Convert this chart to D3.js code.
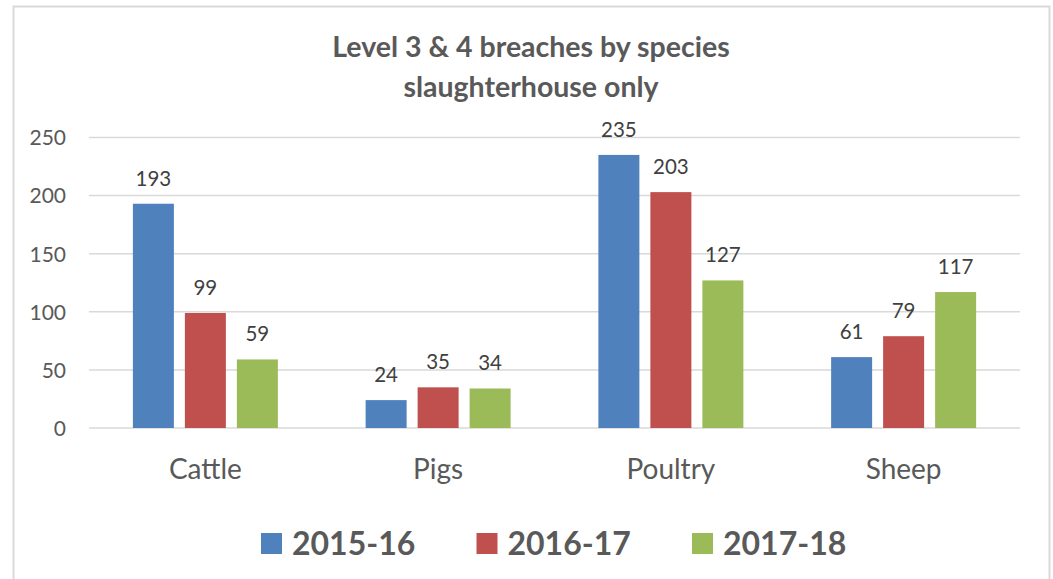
<!DOCTYPE html>
<html>
<head>
<meta charset="utf-8">
<script src="https://cdn.jsdelivr.net/npm/d3@7"></script>
<style>
  html, body { margin: 0; padding: 0; background: #fff; }
  svg { display: block; font-family: Lato, "Open Sans", sans-serif; }
</style>
</head>
<body>
<div id="chart"></div>
<script>
// Data
var species = ['Cattle', 'Pigs', 'Poultry', 'Sheep'];
var years = ['2015-16', '2016-17', '2017-18'];
var values2015 = [193, 24, 235, 61];
var values2016 = [99, 35, 203, 79];
var values2017 = [59, 34, 127, 117];
var yTicks = [0, 50, 100, 150, 200, 250];
var titleLines = ['Level 3 & 4 breaches by species', 'slaughterhouse only'];
var colors = ['#4F81BD', '#C0504D', '#9BBB59'];

var seriesValues = [values2015, values2016, values2017];
var rows = species.map(function(s, i) {
  return { name: s, vals: years.map(function(y, j) { return { year: y, value: seriesValues[j][i], idx: j }; }) };
});

var W = 1053, H = 579;
var svg = d3.select('#chart').append('svg')
  .attr('width', W).attr('height', H);

// Chart area border
svg.append('rect')
  .attr('x', 13.5).attr('y', 6.5)
  .attr('width', 1036).attr('height', 600)
  .attr('fill', '#fff')
  .attr('stroke', '#d9d9d9')
  .attr('stroke-width', 2);

// Title
svg.append('g').selectAll('text').data(titleLines).join('text')
  .attr('x', 531)
  .attr('y', function(d, i) { return 57 + i * 40; })
  .attr('text-anchor', 'middle')
  .attr('font-size', 28.5)
  .attr('font-weight', 'bold')
  .attr('fill', '#595959')
  .text(function(d) { return d; });

// Scales
var x0 = d3.scaleBand().domain(species).range([89, 1020]).paddingInner(0).paddingOuter(0);
var x1 = d3.scaleBand().domain(years).range([0, x0.bandwidth()])
  .paddingInner(0.2115).paddingOuter(0.844);
var y = d3.scaleLinear().domain([0, 250]).range([428, 137.5]);

// Gridlines
svg.append('g').selectAll('line').data(yTicks).join('line')
  .attr('x1', 89).attr('x2', 1020)
  .attr('y1', function(d) { return y(d); })
  .attr('y2', function(d) { return y(d); })
  .attr('stroke', '#d9d9d9')
  .attr('stroke-width', 1.5);

// Y axis labels
var yAxis = svg.append('g')
  .attr('transform', 'translate(89,0)')
  .call(d3.axisLeft(y).tickValues(yTicks).tickSize(0).tickPadding(23));
yAxis.select('.domain').remove();
yAxis.selectAll('text')
  .attr('font-family', 'Lato, "Open Sans", sans-serif')
  .attr('font-size', 21)
  .attr('fill', '#595959')
  .attr('dy', '0.35em');

// Bars
var groups = svg.append('g').selectAll('g').data(rows).join('g')
  .attr('transform', function(d) { return 'translate(' + x0(d.name) + ',0)'; });

groups.selectAll('rect').data(function(d) { return d.vals; }).join('rect')
  .attr('x', function(d) { return x1(d.year); })
  .attr('width', x1.bandwidth())
  .attr('y', function(d) { return y(d.value); })
  .attr('height', function(d) { return y(0) - y(d.value); })
  .attr('fill', function(d) { return colors[d.idx]; });

// Data labels
groups.selectAll('text').data(function(d) { return d.vals; }).join('text')
  .attr('x', function(d) { return x1(d.year) + x1.bandwidth() / 2; })
  .attr('y', function(d) { return y(d.value) - 18; })
  .attr('text-anchor', 'middle')
  .attr('font-size', 20.5)
  .attr('fill', '#404040')
  .text(function(d) { return d.value; });

// Category labels
var xAxis = svg.append('g')
  .attr('transform', 'translate(0,428)')
  .call(d3.axisBottom(x0).tickSize(0).tickPadding(0));
xAxis.select('.domain').remove();
xAxis.selectAll('text')
  .attr('font-family', 'Lato, "Open Sans", sans-serif')
  .attr('font-size', 28)
  .attr('fill', '#595959')
  .attr('dy', null)
  .attr('y', 51);

// Legend
var legend = svg.append('g').selectAll('g').data(years).join('g')
  .attr('transform', function(d, i) { return 'translate(' + (261 + i * 215.5) + ',533)'; });
legend.append('rect')
  .attr('width', 21).attr('height', 21)
  .attr('fill', function(d, i) { return colors[i]; });
legend.append('text')
  .attr('x', 31).attr('y', 22)
  .attr('font-size', 32)
  .attr('font-weight', 'bold')
  .attr('fill', '#595959')
  .text(function(d) { return d; });
</script>
</body>
</html>
